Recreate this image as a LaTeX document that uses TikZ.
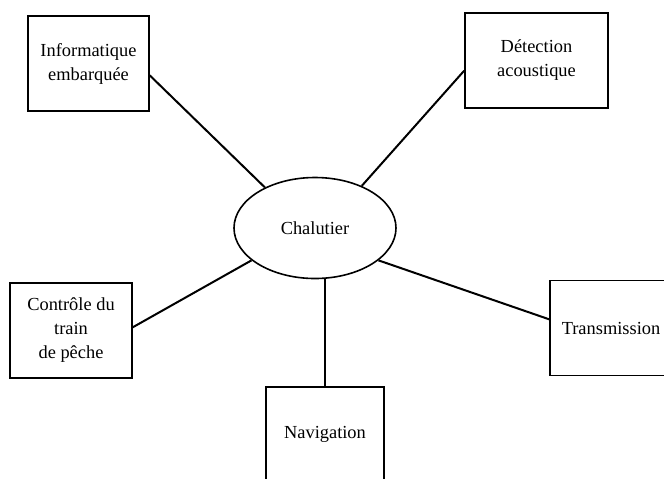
\documentclass[tikz,border=0pt]{standalone}
\usepackage{fontspec}
\setmainfont{Liberation Serif}
\usetikzlibrary{shapes.geometric}

\begin{document}
\begin{tikzpicture}[
        %We set the scale (one unit is one pixel of the page) and define some styles
        x=0.5pt, y=-0.5pt,
        every node/.style={color=black, font=\fontsize{9.2}{12}\selectfont, align=center},
        module box/.style={draw, line width=0.8pt, inner sep=0pt, minimum height=47.5pt},
        trawler hub/.style={draw, ellipse, line width=0.8pt, inner sep=0pt,
            minimum width=81pt, minimum height=50.5pt},
        link line/.style={line width=1pt}
]
    \useasboundingbox (0,0) rectangle (664,478);

    % The trawler in the middle
    \node[trawler hub] (chal) at (315,228) {Chalutier};

    % The surrounding systems
    \node[module box, minimum width=60.5pt] (info) at (88.5,63.5) {Informatique\\embarquée};
    \node[module box, minimum width=71.5pt] (detect) at (536.5,60.5) {Détection\\acoustique};
    \node[module box, minimum width=61pt] (ctrl) at (71,330.5) {Contrôle du\\train\\de pêche};
    \node[module box, minimum width=61pt] (trans) at (611,328) {Transmission};
    \node[module box, minimum width=59pt] (nav) at (325,434.5) {Navigation};

    % links to the trawler
    \draw[link line] (info.-11) -- (chal.141);
    \draw[link line] (detect.188) -- (chal.42);
    \draw[link line] (ctrl.3) -- (chal.207);
    \draw[link line] (trans.172) -- (chal.333);
    \draw[link line] (nav.north) -- (nav.north |- chal.south);
\end{tikzpicture}
\end{document}
